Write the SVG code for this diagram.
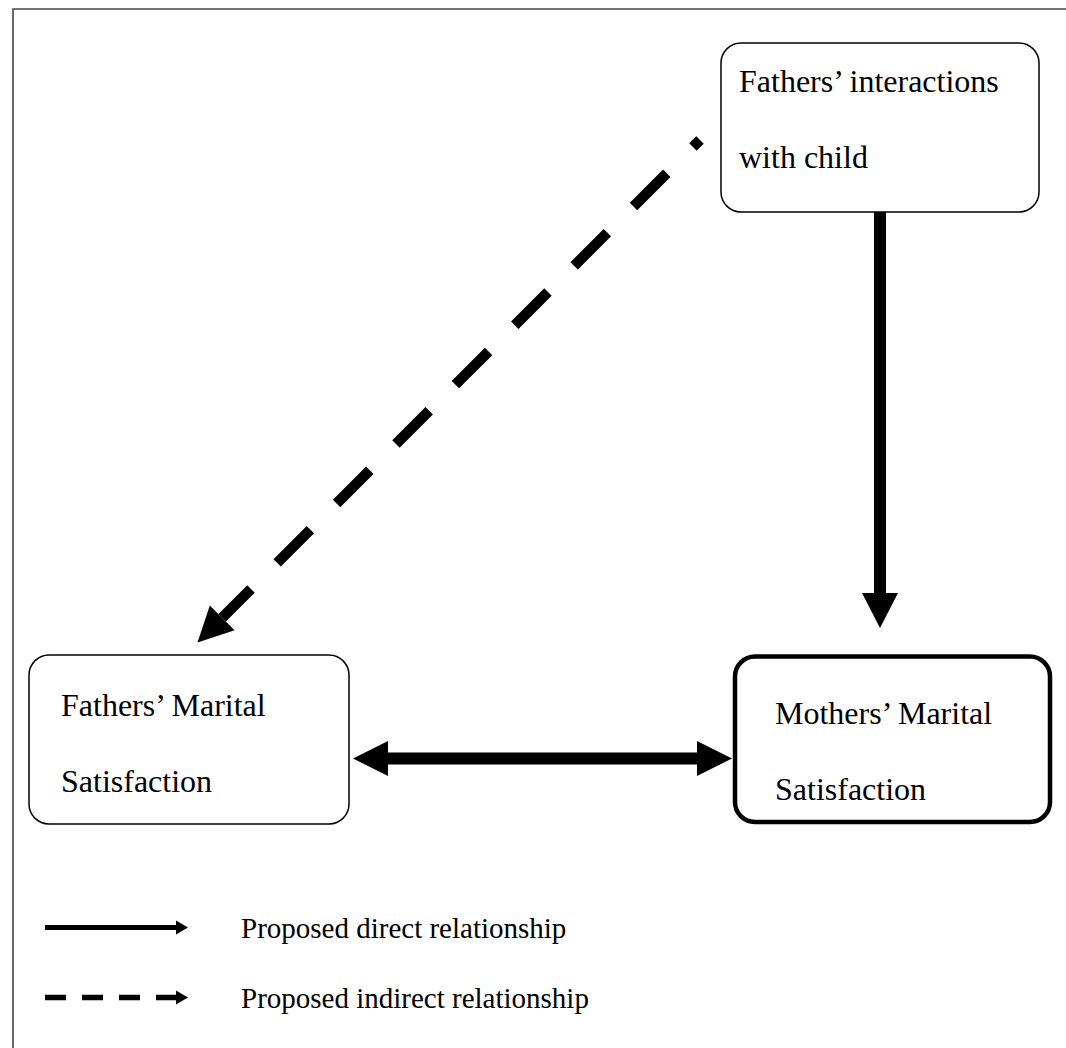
<svg xmlns="http://www.w3.org/2000/svg" width="1066" height="1048" viewBox="0 0 1066 1048">
<style>
.box{fill:#fff;stroke:#000;stroke-width:1.5}
.bold{stroke-width:4.5}
.t{font-family:"Liberation Serif","Times New Roman",serif;font-size:32px;fill:#000}
.lg{font-family:"Liberation Serif","Times New Roman",serif;font-size:29px;fill:#000}
.frame{stroke:#444;stroke-width:1.6;fill:none}
</style>
<rect width="1066" height="1048" fill="#fff"/>
<path class="frame" d="M13,1048 V9 H1066"/>
<g id="connectors">
  <line x1="700" y1="140" x2="222.2" y2="617.8" stroke="#000" stroke-width="10.5" stroke-dasharray="47 37" stroke-dashoffset="37"/>
  <polygon points="197.5,642.5 209.8,605.4 234.6,630.2" fill="#000"/>
  <rect x="874" y="212" width="12" height="382" fill="#000"/>
  <polygon points="862,593 898,593 880,628" fill="#000"/>
  <rect x="388" y="752.5" width="309" height="12" fill="#000"/>
  <polygon points="388,741 388,776 353,758.5" fill="#000"/>
  <polygon points="697,741 697,776 732,758.5" fill="#000"/>
</g>
<g id="node-fathers-interactions">
  <rect class="box" x="721" y="43" width="318" height="169" rx="20"/>
  <text class="t" x="739" y="92">Fathers’ interactions</text>
  <text class="t" x="739" y="168">with child</text>
</g>
<g id="node-fathers-marital">
  <rect class="box" x="29" y="655" width="320" height="169" rx="20"/>
  <text class="t" x="61" y="716">Fathers’ Marital</text>
  <text class="t" x="61" y="792">Satisfaction</text>
</g>
<g id="node-mothers-marital">
  <rect class="box bold" x="735" y="656.5" width="315" height="165.5" rx="20"/>
  <text class="t" x="775" y="724">Mothers’ Marital</text>
  <text class="t" x="775" y="800">Satisfaction</text>
</g>
<g id="legend">
  <line x1="45" y1="927.5" x2="177" y2="927.5" stroke="#000" stroke-width="5"/>
  <polygon points="176,920.5 176,934.5 188,927.5" fill="#000"/>
  <line x1="45" y1="997.5" x2="177" y2="997.5" stroke="#000" stroke-width="5.5" stroke-dasharray="21 16"/>
  <polygon points="176,990.5 176,1004.5 188,997.5" fill="#000"/>
  <text class="lg" x="241" y="938">Proposed direct relationship</text>
  <text class="lg" x="241" y="1008">Proposed indirect relationship</text>
</g>
</svg>
